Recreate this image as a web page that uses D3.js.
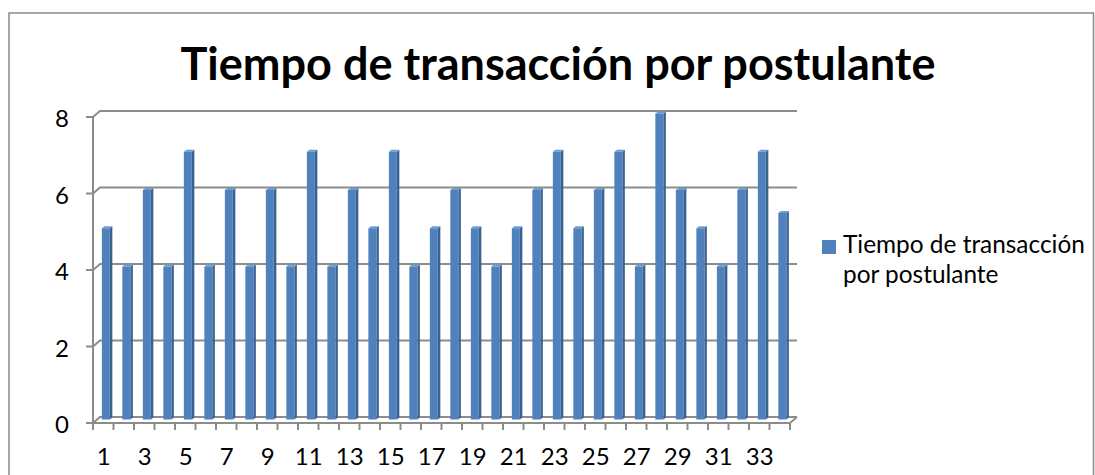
<!DOCTYPE html>
<html><head><meta charset="utf-8">
<script src="https://cdn.jsdelivr.net/npm/d3@7"></script>
<style>html,body{margin:0;padding:0;background:#fff;overflow:hidden}</style>
</head><body>
<svg id="c" width="1095" height="475"></svg>
<script>
const categories = d3.range(1, 35).map(String);
const values = [5,4,6,4,7,4,6,4,6,4,7,4,6,5,7,4,5,6,5,4,5,6,7,5,6,7,4,8,6,5,4,6,7,5.4];
const yTicks = [0,2,4,6,8];
const xTickLabels = categories.filter((d,i)=> i%2===0);
const title = "Tiempo de transacción por postulante";
const legendLines = ["Tiempo de transacción","por postulante"];

const svg = d3.select("#c");
const FONT = "Lato, 'Open Sans', sans-serif";
const DX = 7, DY = -6;
const x = d3.scaleBand().domain(categories).range([93, 790]).padding(0);
const y = d3.scaleLinear().domain([0, 8]).range([423, 117]);

// border
svg.append("rect").attr("x",9).attr("y",13).attr("width",1084.5).attr("height",480)
  .attr("fill","none").attr("stroke","#8a8a8a").attr("stroke-width",1.5);

// title
const t = svg.append("text").attr("x",558).attr("y",80).attr("text-anchor","middle")
  .attr("font-family",FONT).attr("font-weight","bold").attr("font-size",50).attr("fill","#000").text(title);
{ const w = t.node().getComputedTextLength(); t.attr("font-size", 50*755/w); }

const gridColor = "#8c8c8c";
const g = svg.append("g");
g.selectAll("path.grid").data(yTicks).join("path").attr("class","grid")
  .attr("d", d => `M86,${y(d)}L93,${y(d)}L${93+DX},${y(d)+DY}L${790+DX},${y(d)+DY}`)
  .attr("fill","none").attr("stroke",gridColor).attr("stroke-width",2);
g.append("line").attr("x1",93).attr("x2",93).attr("y1",y(8)).attr("y2",y(0))
  .attr("stroke",gridColor).attr("stroke-width",2);
g.append("path").attr("d",`M93,${y(0)}L790,${y(0)}L${790+DX},${y(0)+DY}`)
  .attr("fill","none").attr("stroke",gridColor).attr("stroke-width",2);
const xb = d3.range(0,35).map(i=> 93 + i*x.bandwidth());
g.selectAll("line.xt").data(xb).join("line").attr("class","xt")
  .attr("x1",d=>d).attr("x2",d=>d).attr("y1",y(0)).attr("y2",y(0)+7)
  .attr("stroke",gridColor).attr("stroke-width",2);

// bars
const BW = 8, SW = 2.5, SH = 2, OFFX = 2.6, OFFY = -3.5;
const bars = svg.append("g");
categories.forEach((c,i)=>{
  const v = values[i];
  const x0 = x(c) + x.bandwidth()/2 - BW/2 + OFFX;
  const yb = y(0) + OFFY, yt = y(v) + OFFY;
  bars.append("path").attr("d",`M${x0+BW},${yt}L${x0+BW+SW},${yt-SH}L${x0+BW+SW},${yb-SH}L${x0+BW},${yb}Z`).attr("fill","#3a6291");
  bars.append("path").attr("d",`M${x0},${yt}L${x0+SW},${yt-SH}L${x0+BW+SW},${yt-SH}L${x0+BW},${yt}Z`).attr("fill","#6f9bd1");
  bars.append("rect").attr("x",x0).attr("y",yt).attr("width",BW).attr("height",yb-yt).attr("fill","#4f81bd");
});

svg.selectAll("text.yl").data(yTicks).join("text").attr("class","yl")
  .attr("x",69).attr("y",d=>y(d)+10).attr("text-anchor","end")
  .attr("font-family",FONT).attr("font-size",24).attr("fill","#000").text(d=>d);
svg.selectAll("text.xl").data(xTickLabels).join("text").attr("class","xl")
  .attr("x",d=>x(d)+x.bandwidth()/2+0.5).attr("y",465).attr("text-anchor","middle")
  .attr("font-family",FONT).attr("font-size",24).attr("fill","#000").text(d=>d);

svg.append("rect").attr("x",822).attr("y",240).attr("width",14).attr("height",14).attr("fill","#4f81bd");
const lt = svg.selectAll("text.lg").data(legendLines).join("text").attr("class","lg")
  .attr("x",843).attr("y",(d,i)=>253+i*30).attr("font-family",FONT).attr("font-size",22).attr("fill","#000").text(d=>d);
{ const w = lt.nodes()[0].getComputedTextLength(); lt.attr("font-size", 22*242/w); }
</script>
</body></html>
